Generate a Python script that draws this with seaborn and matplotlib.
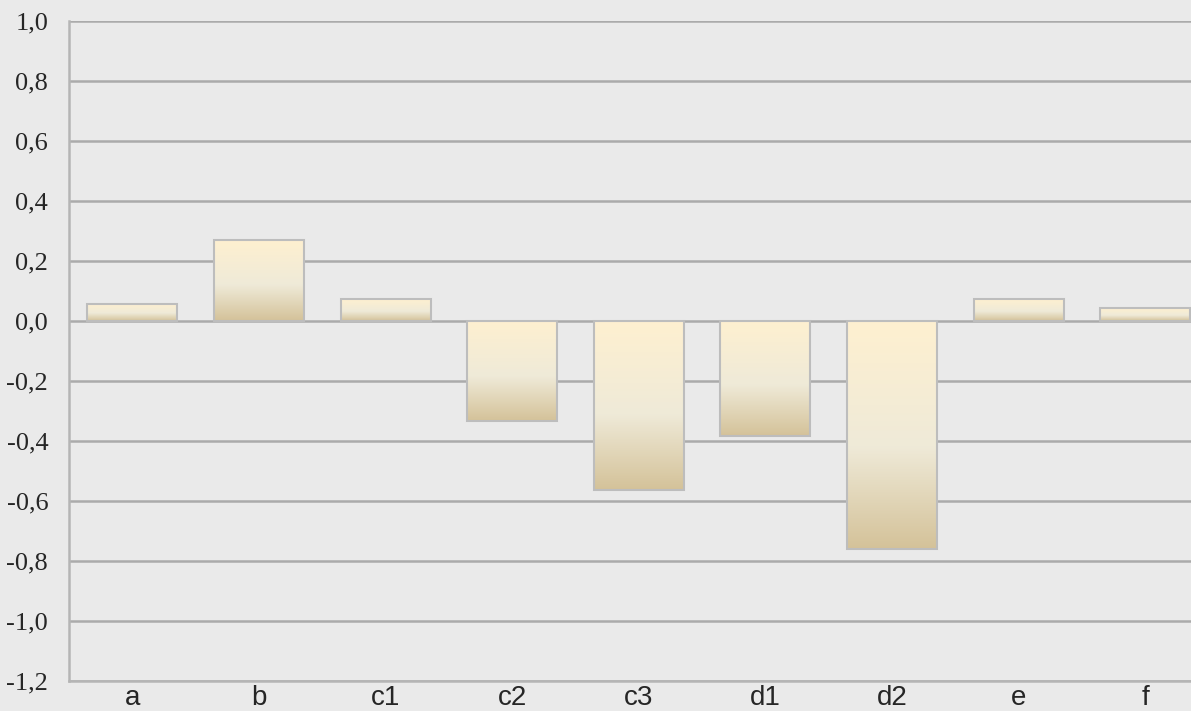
import numpy as np
import pandas as pd
import seaborn as sns
import matplotlib.pyplot as plt
from matplotlib.colors import LinearSegmentedColormap

categories = ["a", "b", "c1", "c2", "c3", "d1", "d2", "e", "f"]
values = [0.057, 0.27, 0.073, -0.333, -0.563, -0.383, -0.76, 0.073, 0.043]
y_ticks = [-1.2, -1.0, -0.8, -0.6, -0.4, -0.2, 0.0, 0.2, 0.4, 0.6, 0.8, 1.0]
y_tick_labels = ["-1,2", "-1,0", "-0,8", "-0,6", "-0,4", "-0,2", "0,0", "0,2", "0,4", "0,6", "0,8", "1,0"]

df = pd.DataFrame({"category": categories, "value": values})

sns.set_style("white")
plt.rcParams['font.family'] = ['Liberation Sans', 'DejaVu Sans']

fig = plt.figure(figsize=(11.91, 7.11), dpi=100)
fig.patch.set_facecolor('#EAEAEA')
ax = fig.add_axes([69 / 1191, 30 / 711, 1139.6 / 1191, 660 / 711])
ax.set_facecolor('#EAEAEA')

sns.barplot(data=df, x="category", y="value", ax=ax, width=0.71,
            color='#F2EAD6', edgecolor='#BDBDBD', linewidth=1.5, zorder=3)

# gradient fill inside each bar, light at top, tan at bottom
grad_cmap = LinearSegmentedColormap.from_list(
    "bar_grad", [(0.0, '#FEF0D0'), (0.55, '#EFEAD8'), (1.0, '#D4C299')])
grad = np.linspace(0, 1, 256).reshape(-1, 1)
for patch in ax.patches:
    patch.set_facecolor('none')
    x0, y0 = patch.get_x(), patch.get_y()
    w, h = patch.get_width(), patch.get_height()
    lo, hi = min(y0, y0 + h), max(y0, y0 + h)
    im = ax.imshow(grad, cmap=grad_cmap, aspect='auto', origin='upper',
                   extent=[x0, x0 + w, lo, hi], zorder=2)
    im.set_clip_path(patch)

ax.set_xlim(-0.5, len(categories) - 0.5)
ax.set_ylim(-1.2, 1.0)
ax.set_yticks(y_ticks)
ax.set_yticklabels(y_tick_labels, family=['Liberation Serif', 'DejaVu Serif'], fontsize=19)
ax.tick_params(axis='y', length=0, pad=15)
ax.tick_params(axis='x', length=0, pad=3, labelsize=20)
ax.set_xlabel("")
ax.set_ylabel("")
ax.grid(axis='y', color='#ABABAB', linewidth=1.8, zorder=0)
ax.set_axisbelow(True)

for side in ['top', 'right']:
    ax.spines[side].set_visible(False)
for side in ['left', 'bottom']:
    ax.spines[side].set_color('#B5B5B5')
    ax.spines[side].set_linewidth(1.8)

fig.savefig("out.png", dpi=100, facecolor=fig.get_facecolor())
